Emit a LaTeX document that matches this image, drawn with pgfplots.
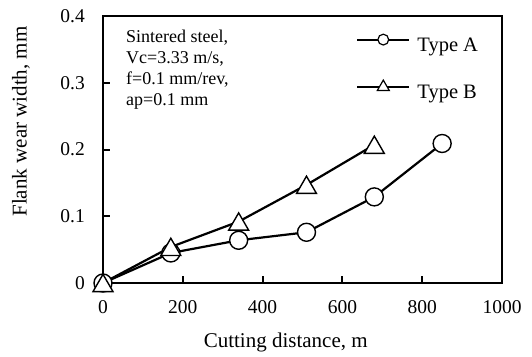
\documentclass[border=0pt]{standalone}
\usepackage{pgfplots}
\pgfplotsset{compat=1.18}
\usepackage{fontspec}
\setmainfont{Liberation Serif}
\begin{document}
\begin{tikzpicture}
\useasboundingbox (-103pt,-73pt) rectangle (429pt,283pt);
\begin{axis}[
  at={(0,0)}, anchor=south west,
  scale only axis, width=399pt, height=267pt,
  xmin=0, xmax=1000, ymin=0, ymax=0.4,
  xtick={0,200,400,600,800,1000},
  ytick={0,0.1,0.2,0.3,0.4},
  axis line style={line width=2.6pt},
  tick align=inside, tick pos=left,
  major tick length=7pt,
  every tick/.style={black, line width=2pt},
  /pgf/number format/assume math mode=true,
  /pgf/number format/1000 sep={},
  tick label style={font=\fontsize{19.5}{23}\selectfont, inner sep=0pt},
  yticklabel style={xshift=-18pt},
  xticklabel style={yshift=-17pt},
  xlabel={Cutting distance, m},
  ylabel={Flank wear width, mm},
  label style={font=\fontsize{21}{25}\selectfont},
  xlabel style={at={([yshift=-59pt]axis description cs:0.458,0)}, anchor=center},
  ylabel style={at={([xshift=-82pt]axis description cs:0,0.605)}, anchor=center},
  clip=false,
  legend style={draw=none, fill=none, inner sep=0pt,
    at={([xshift=253pt, yshift=-18pt]rel axis cs:0,1)}, anchor=north west,
    row sep=27pt,
    nodes={inner sep=0pt, font=\fontsize{20.5}{24}\selectfont},
    /tikz/every odd column/.append style={column sep=7pt}},
  legend cell align=left,
  legend image code/.code={\draw[#1, mark repeat=2, mark phase=2, mark options={fill=white, draw=black, solid, line width=1.2pt, scale=0.6}] plot coordinates {(0pt,6pt) (26pt,6pt) (52pt,6pt)};},
]
\addplot[black, line width=2.2pt, mark=*, mark size=9pt, mark options={fill=white, draw=black, line width=1.4pt}]
  coordinates {(0,0) (170,0.045) (340,0.064) (510,0.076) (680,0.129) (850,0.209)};
\addlegendentry{Type A}
\addplot[black, line width=2.2pt, mark=triangle*, mark size=11.5pt, mark options={fill=white, draw=black, line width=1.4pt, yshift=-2.8pt}]
  coordinates {(0,0) (170,0.054) (340,0.092) (510,0.147) (680,0.207)};
\addlegendentry{Type B}
\node[anchor=north west, align=left, inner sep=0pt, font=\fontsize{18}{21}\selectfont]
  at ([xshift=23pt,yshift=-13.5pt]rel axis cs:0,1) {Sintered steel,\\Vc=3.33 m/s,\\f=0.1 mm/rev,\\ap=0.1 mm};
\end{axis}
\end{tikzpicture}
\end{document}
